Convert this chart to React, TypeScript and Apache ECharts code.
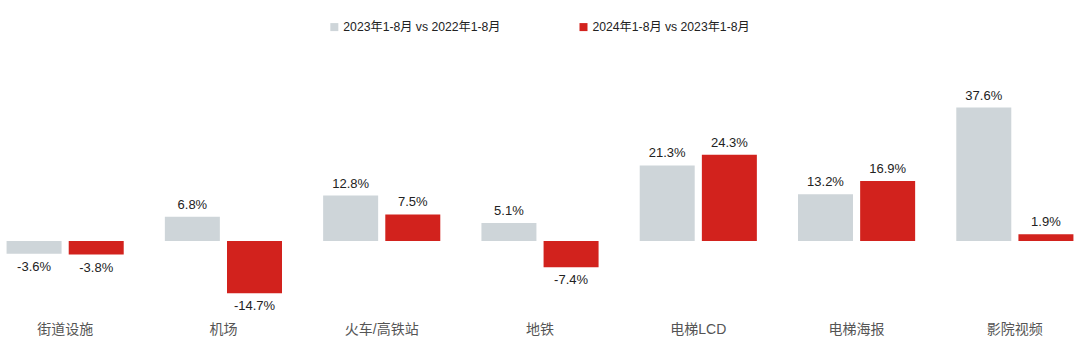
import React, { useEffect, useRef } from "react";
import * as echarts from "echarts";

const categories = ["街道设施", "机场", "火车/高铁站", "地铁", "电梯LCD", "电梯海报", "影院视频"];
const seriesNames = ["2023年1-8月 vs 2022年1-8月", "2024年1-8月 vs 2023年1-8月"];
const values2023 = [-3.6, 6.8, 12.8, 5.1, 21.3, 13.2, 37.6];
const values2024 = [-3.8, -14.7, 7.5, -7.4, 24.3, 16.9, 1.9];
const colors = ["#CED5D9", "#D2221D"];

const font = "Arial, 'Liberation Sans', 'Noto Sans CJK SC', sans-serif";

function mkData(vals: number[]) {
  return vals.map((v) => ({
    value: v,
    label: { position: v >= 0 ? "top" : "bottom" },
  }));
}

export default function App() {
  const ref = useRef<HTMLDivElement>(null);
  useEffect(() => {
    if (!ref.current) return;
    const chart = echarts.init(ref.current, null, { renderer: "svg" });
    const labelCfg = {
      show: true,
      formatter: (p: any) => p.value.toFixed(1) + "%",
      color: "#222",
      fontSize: 13,
      fontFamily: font,
      distance: 6,
    };
    chart.setOption({
      animation: false,
      legend: {
        top: 16,
        left: "center",
        itemWidth: 8,
        itemHeight: 8,
        itemGap: 79,
        icon: "rect",
        textStyle: { fontSize: 12.2, color: "#222", fontFamily: font },
        data: seriesNames,
      },
      grid: { left: 0, right: 0, top: 99, bottom: 35, containLabel: false },
      xAxis: {
        type: "category",
        data: categories,
        axisLine: { show: false },
        axisTick: { show: false },
        axisLabel: { color: "#555", fontSize: 14, fontFamily: font, margin: 10 },
      },
      yAxis: {
        type: "value",
        min: -20,
        max: 40,
        show: false,
        splitLine: { show: false },
      },
      series: [
        {
          name: seriesNames[0],
          type: "bar",
          barWidth: 55,
          barGap: "13%",
          itemStyle: { color: colors[0] },
          label: labelCfg,
          data: mkData(values2023),
        },
        {
          name: seriesNames[1],
          type: "bar",
          barWidth: 55,
          barGap: "13%",
          itemStyle: { color: colors[1] },
          label: labelCfg,
          data: mkData(values2024),
        },
      ],
    });
    return () => chart.dispose();
  }, []);
  return (
    <div
      ref={ref}
      style={{ position: "absolute", left: -14, top: 0, width: 1108, height: 347 }}
    />
  );
}
